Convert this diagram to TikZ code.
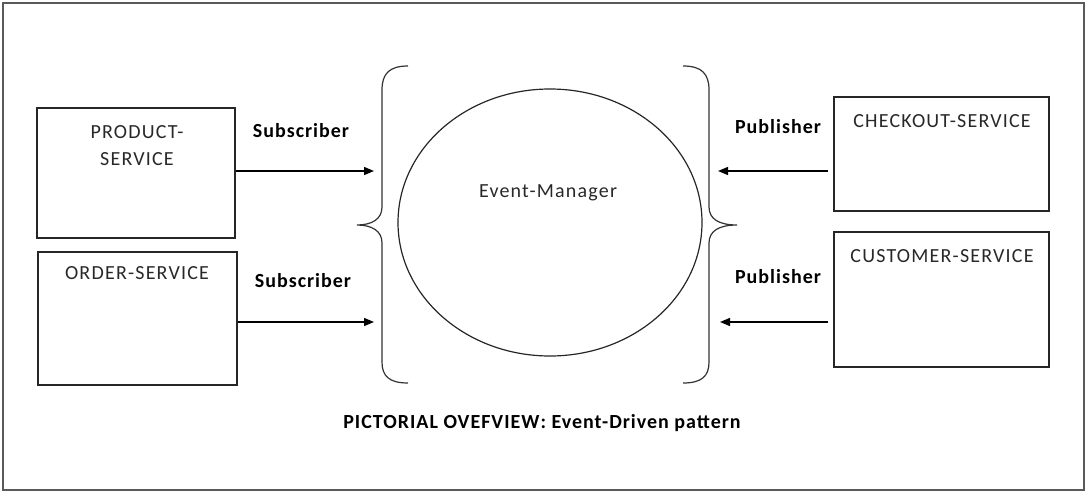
\documentclass[tikz,border=0pt]{standalone}
\usepackage{fontspec}
\setmainfont{Carlito}
\newfontfamily\boxfont[LetterSpace=6]{Carlito}
\newfontfamily\boldfont[LetterSpace=5]{Carlito Bold}
\usetikzlibrary{arrows.meta,shapes.geometric}
\definecolor{framegray}{RGB}{90,90,90}
\definecolor{txtgray}{RGB}{40,40,40}
\tikzset{
  svc/.style={draw=black!85, line width=1.4pt, minimum width=#1, inner sep=0pt},
  svctext/.style={font=\boxfont\fontsize{20}{27}\selectfont, text=txtgray, anchor=base, inner sep=0pt, align=center},
  role/.style={font=\boldfont\bfseries\fontsize{20}{24}\selectfont, anchor=base, inner sep=0pt},
  conn/.style={line width=1.3pt, -{Triangle[length=10pt,width=8pt]}},
  bracestyle/.style={draw=black!80, line width=1.2pt},
}
\begin{document}
\begin{tikzpicture}[x=1pt,y=-1pt]
\useasboundingbox (0,0) rectangle (1092,498);
\draw[framegray, line width=1.4pt] (3,3) rectangle (1084,490);

% service boxes
\node[svc=198pt, minimum height=130pt] (prod) at (136,173) {};
\node[svc=199pt, minimum height=133pt] (order) at (137.5,318.5) {};
\node[svc=215pt, minimum height=114pt] (check) at (941.5,154) {};
\node[svc=215pt, minimum height=135pt] (cust) at (941.5,299.5) {};

\node[svctext] (prodt) at (137,165) {PRODUCT-\\SERVICE};
\node[svctext] (ordert) at (137,279) {ORDER-SERVICE};
\node[svctext] (checkt) at (942,127) {CHECKOUT-SERVICE};
\node[svctext] (custt) at (942,262) {CUSTOMER-SERVICE};

% event manager
\node[draw=black!85, line width=1.2pt, ellipse, minimum width=304pt, minimum height=267pt, inner sep=0pt] (em) at (550,222.5) {};
\node[svctext] (emt) at (548,197) {Event-Manager};

% braces
\draw[bracestyle] (408,66) .. controls (389,66) and (382,74) .. (382,90) -- (382,207)
  .. controls (382,219) and (372,225) .. (357,225)
  .. controls (372,225) and (382,231) .. (382,243) -- (382,362)
  .. controls (382,376) and (389,383) .. (408,383);
\draw[bracestyle] (683,66) .. controls (702,66) and (709,74) .. (709,90) -- (709,207)
  .. controls (709,219) and (719,225) .. (737,225)
  .. controls (719,225) and (709,231) .. (709,243) -- (709,362)
  .. controls (709,376) and (702,383) .. (683,383);

% role labels
\node[role] (sub1) at (301,137) {Subscriber};
\node[role] (sub2) at (303,287) {Subscriber};
\node[role] (pub1) at (778,133) {Publisher};
\node[role] (pub2) at (778,283) {Publisher};

% connectors
\coordinate (a1) at (374,171);
\coordinate (a2) at (374,322);
\coordinate (a3) at (718,171);
\coordinate (a4) at (720,322);
\draw[conn] (prod.east |- a1) -- (a1);
\draw[conn] (order.east |- a2) -- (a2);
\draw[conn, shorten <=5pt] (check.west |- a3) -- (a3);
\draw[conn, shorten <=5pt] (cust.west |- a4) -- (a4);

% caption
\node[role, font=\boldfont\bfseries\fontsize{20}{24}\selectfont] (cap) at (542,428) {PICTORIAL OVEFVIEW: Event-Driven pattern};
\end{tikzpicture}
\end{document}
